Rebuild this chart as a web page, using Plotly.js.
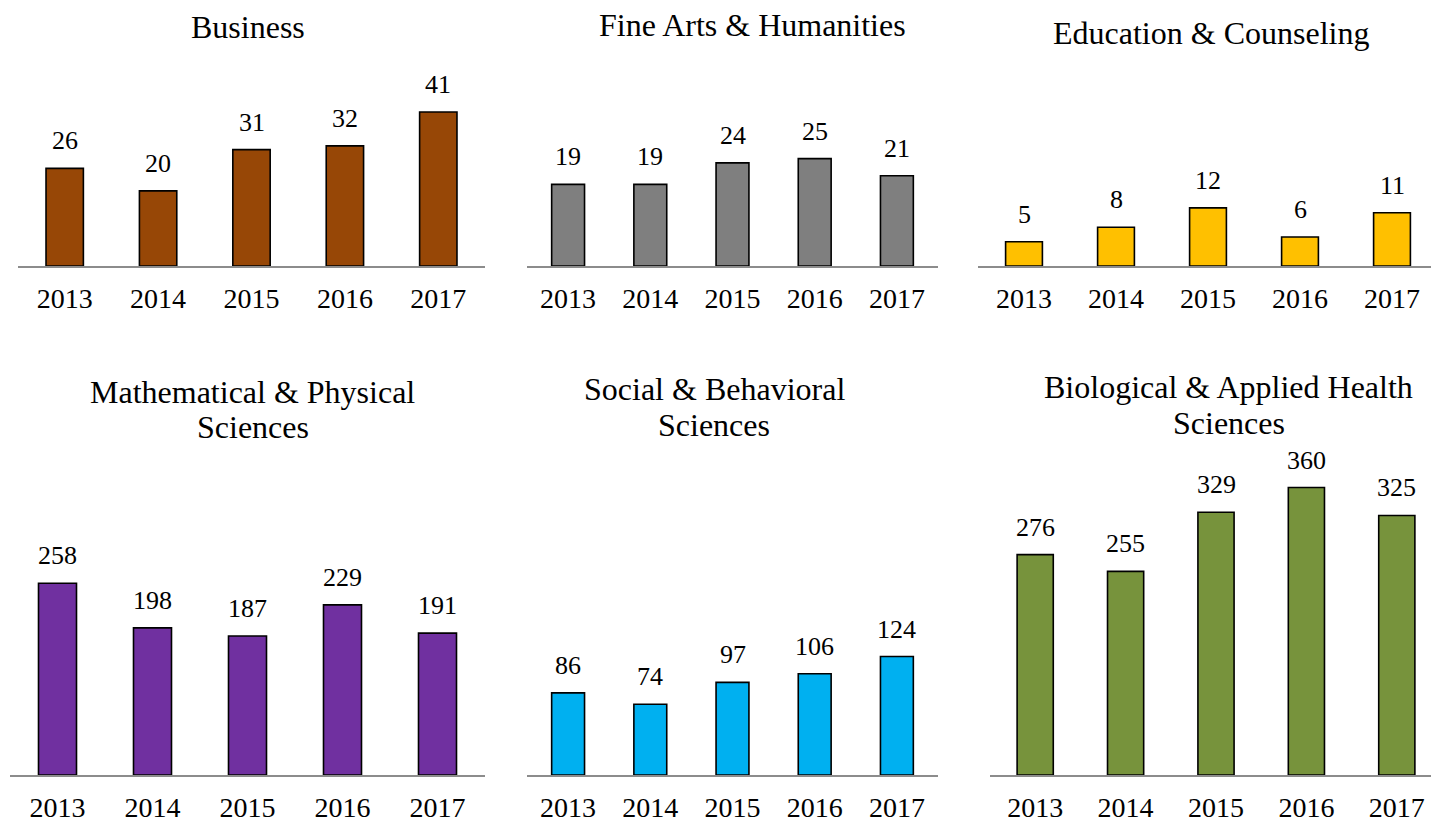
<!DOCTYPE html>
<html>
<head>
<meta charset="utf-8">
<script src="https://cdn.plot.ly/plotly-3.0.1.min.js"></script>
<style>
html,body{margin:0;padding:0;background:#fff;}
#chart{width:1431px;height:822px;}
</style>
</head>
<body>
<div id="chart"></div>
<script>
// ---- data ----
const years = ["2013", "2014", "2015", "2016", "2017"];

const businessValues = [26, 20, 31, 32, 41];
const fineArtsValues = [19, 19, 24, 25, 21];
const educationValues = [5, 8, 12, 6, 11];
const mathValues = [258, 198, 187, 229, 191];
const socialValues = [86, 74, 97, 106, 124];
const bioValues = [276, 255, 329, 360, 325];

const titleBusiness = ["Business"];
const titleFineArts = ["Fine Arts & Humanities"];
const titleEducation = ["Education & Counseling"];
const titleMath = ["Mathematical & Physical", "Sciences"];
const titleSocial = ["Social & Behavioral", "Sciences"];
const titleBio = ["Biological & Applied Health", "Sciences"];

// ---- styling / layout ----
const W = 1431, H = 822;
const FONT = 'Liberation Serif, Times New Roman, serif';

const panels = [
  {values: businessValues, title: titleBusiness, color: '#974706', x0: 18, x1: 485, xmaxPx: 485, base: 266, top: 60, ymax: 54.86, tx: 248, tb: [37.3]},
  {values: fineArtsValues, title: titleFineArts, color: '#7F7F7F', x0: 527, x1: 938, xmaxPx: 938, base: 266, top: 60, ymax: 47.96, tx: 753, tb: [35]},
  {values: educationValues, title: titleEducation, color: '#FFC000', x0: 978, x1: 1431, xmaxPx: 1438, base: 266, top: 60, ymax: 42.56, tx: 1211, tb: [43.3]},
  {values: mathValues, title: titleMath, color: '#7030A0', x0: 10, x1: 485, xmaxPx: 485, base: 775, top: 460, ymax: 423.96, tx: 252.5, tb: [401.7, 437.3]},
  {values: socialValues, title: titleSocial, color: '#00B0F0', x0: 527, x1: 938, xmaxPx: 938, base: 775, top: 460, ymax: 329.8, tx: 714, tb: [399.3, 435]},
  {values: bioValues, title: titleBio, color: '#77933C', x0: 990, x1: 1431, xmaxPx: 1442, base: 775, top: 460, ymax: 394.5, tx: 1228.5, tb: [396.7, 432.7]}
];

const data = [];
const layout = {
  width: W, height: H,
  margin: {l: 0, r: 0, t: 0, b: 0, pad: 0},
  paper_bgcolor: '#ffffff',
  plot_bgcolor: 'rgba(0,0,0,0)',
  showlegend: false,
  font: {family: FONT, color: '#000000'},
  annotations: []
};

panels.forEach((p, i) => {
  const n = i + 1;
  const xa = 'x' + (n === 1 ? '' : n);
  const ya = 'y' + (n === 1 ? '' : n);
  data.push({
    type: 'bar',
    x: years,
    y: p.values,
    xaxis: xa, yaxis: ya,
    width: 0.4,
    marker: {color: p.color, line: {color: '#000000', width: 1.6}},
    hoverinfo: 'x+y'
  });
  const spacing = (p.xmaxPx - p.x0) / 5;
  const rangeMax = -0.5 + (p.x1 - p.x0) / spacing;
  layout['xaxis' + (n === 1 ? '' : n)] = {
    domain: [p.x0 / W, p.x1 / W],
    anchor: ya,
    type: 'category',
    range: [-0.5, rangeMax],
    showline: true, linecolor: '#8c8c8c', linewidth: 2,
    showgrid: false, zeroline: false,
    ticks: '', ticklabelstandoff: 6,
    tickfont: {family: FONT, size: 28, color: '#000000'},
    fixedrange: true
  };
  layout['yaxis' + (n === 1 ? '' : n)] = {
    domain: [1 - p.base / H, 1 - p.top / H],
    anchor: xa,
    range: [0, p.ymax],
    visible: false,
    showgrid: false, zeroline: false,
    fixedrange: true
  };
  // value labels (category index positions)
  p.values.forEach((v, k) => {
    layout.annotations.push({
      xref: xa, yref: ya, x: k, y: v,
      text: String(v), showarrow: false,
      xanchor: 'center', yanchor: 'bottom', yshift: 11,
      font: {family: FONT, size: 26, color: '#000000'}
    });
  });
  // titles
  p.title.forEach((line, k) => {
    layout.annotations.push({
      xref: 'paper', yref: 'paper',
      x: p.tx / W, y: 1 - (p.tb[k] + 10) / H,
      text: line, showarrow: false,
      xanchor: 'center', yanchor: 'bottom',
      font: {family: FONT, size: 32, color: '#000000'}
    });
  });
});

Plotly.newPlot('chart', data, layout, {displayModeBar: false, staticPlot: true});
</script>
</body>
</html>
